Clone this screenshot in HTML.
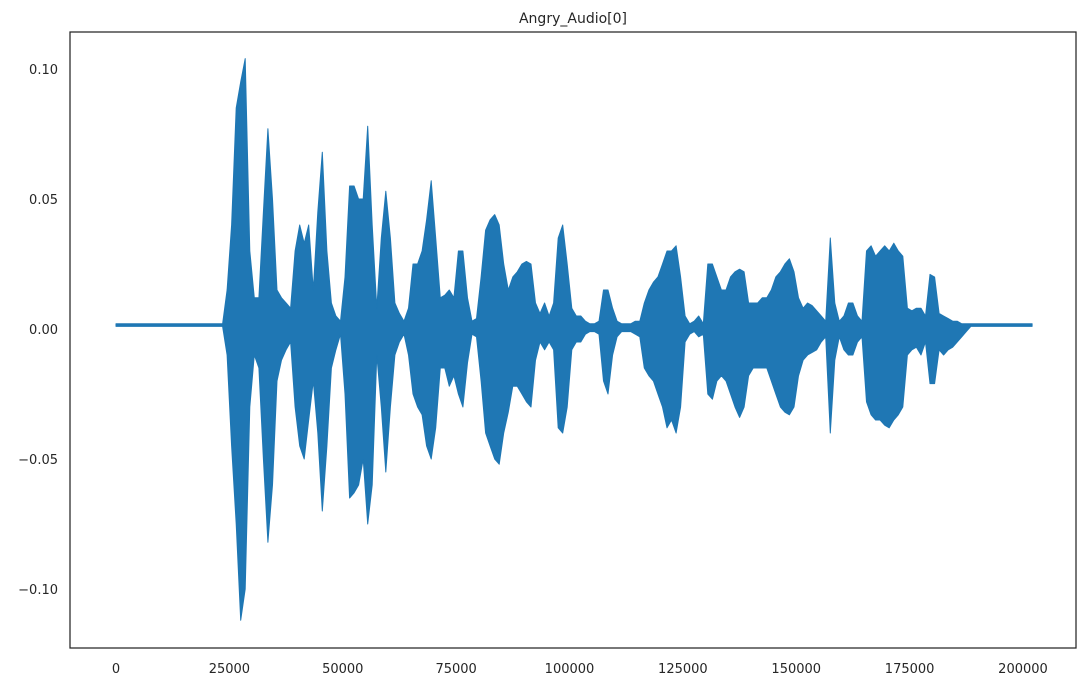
<!DOCTYPE html>
<html><head><meta charset="utf-8">
<style>
html,body{margin:0;padding:0;background:#fff;}
svg{display:block;font-family:"DejaVu Sans","Liberation Sans",sans-serif;}
</style></head>
<body>
<svg id="chart" width="1087" height="686" viewBox="0 0 1087 686" xmlns="http://www.w3.org/2000/svg">
<text x="573" y="23" text-anchor="middle" font-size="14" fill="#262626">Angry_Audio[0]</text>
<g id="plot"></g>
<rect x="70" y="32" width="1006" height="616" fill="none" stroke="#262626" stroke-width="1.25"/>
<g id="axes"></g>
</svg>
<script>
// each bin = 1000 samples
const binSize = 1000;
// envelope max values per bin (thousandths)
const envMax = [2,2,2,2,2,2,2,2,2,2,2,2,2,2,2,2,2,2,2,2,2,2,2,2,
15,40,85,95,104,30,12,12,45,77,50,15,12,10,8,30,40,33,40,15,45,68,30,10,5,3,
20,55,55,50,50,78,40,8,35,53,35,10,6,3,8,25,25,30,42,57,35,12,13,15,12,30,30,12,3,4,
20,38,42,44,40,25,15,20,22,25,26,25,10,6,10,5,10,35,40,25,8,5,5,3,2,2,3,15,15,8,3,2,2,2,3,3,
10,15,18,20,25,30,30,32,20,5,2,3,5,2,25,25,20,15,15,20,22,23,22,10,10,10,12,12,15,20,22,25,27,22,12,8,10,9,7,5,3,
35,10,3,5,10,10,5,3,30,32,28,30,32,30,33,30,28,8,7,8,8,5,21,20,6,5,4,3,3,2,2,
2,2,2,2,2,2,2,2,2,2,2,2,2,2];
// envelope min values per bin (thousandths)
const envMin = [1,1,1,1,1,1,1,1,1,1,1,1,1,1,1,1,1,1,1,1,1,1,1,1,
-10,-45,-75,-112,-100,-30,-10,-15,-50,-82,-60,-20,-12,-8,-5,-30,-45,-50,-35,-20,-40,-70,-45,-15,-8,-2,
-25,-65,-63,-60,-50,-75,-60,-10,-30,-55,-30,-10,-5,-2,-10,-25,-30,-33,-45,-50,-38,-15,-15,-22,-18,-25,-30,-13,-2,-3,
-20,-40,-45,-50,-52,-40,-32,-22,-22,-25,-28,-30,-12,-5,-8,-5,-8,-38,-40,-30,-8,-5,-5,-2,-1,-1,-2,-20,-25,-10,-3,-1,-1,-1,-2,-3,
-15,-18,-20,-25,-30,-38,-35,-40,-30,-5,-2,-1,-3,-2,-25,-27,-20,-18,-20,-25,-30,-34,-30,-18,-15,-15,-15,-15,-20,-25,-30,-32,-33,-30,-18,-12,-10,-9,-8,-5,-3,
-40,-12,-3,-8,-10,-10,-5,-3,-28,-33,-35,-35,-37,-38,-35,-33,-30,-10,-8,-7,-10,-5,-21,-21,-8,-10,-8,-7,-5,-3,-1,
1,1,1,1,1,1,1,1,1,1,1,1,1,1];
const xTicks = [0,25000,50000,75000,100000,125000,150000,175000,200000];
const xTickLabels = ["0","25000","50000","75000","100000","125000","150000","175000","200000"];
const yTicks = [0.10,0.05,0.00,-0.05,-0.10];
const yTickLabels = ["0.10","0.05","0.00","\u22120.05","\u22120.10"];

const xScale = s => 116 + s * (1023 - 116) / 200000;
const yScale = v => 329 - v * 2600;
const NS = "http://www.w3.org/2000/svg";
const plot = document.getElementById('plot');
const axes = document.getElementById('axes');

const n = envMax.length;
let pts = [];
pts.push(xScale(0).toFixed(1) + ',' + yScale(envMax[0] / 1000).toFixed(1));
for (let i = 0; i < n; i++) {
  pts.push(xScale((i + 0.5) * binSize).toFixed(1) + ',' + yScale(envMax[i] / 1000).toFixed(1));
}
pts.push(xScale(n * binSize).toFixed(1) + ',' + yScale(envMax[n - 1] / 1000).toFixed(1));
pts.push(xScale(n * binSize).toFixed(1) + ',' + yScale(envMin[n - 1] / 1000).toFixed(1));
for (let i = n - 1; i >= 0; i--) {
  pts.push(xScale((i + 0.5) * binSize).toFixed(1) + ',' + yScale(envMin[i] / 1000).toFixed(1));
}
pts.push(xScale(0).toFixed(1) + ',' + yScale(envMin[0] / 1000).toFixed(1));
const poly = document.createElementNS(NS, 'polygon');
poly.setAttribute('points', pts.join(' '));
poly.setAttribute('fill', '#1f77b4');
poly.setAttribute('stroke', '#1f77b4');
poly.setAttribute('stroke-width', '1');
poly.setAttribute('stroke-linejoin', 'round');


plot.appendChild(poly);

xTicks.forEach((t, i) => {
  const tx = document.createElementNS(NS, 'text');
  tx.setAttribute('x', xScale(t));
  tx.setAttribute('y', 673);
  tx.setAttribute('text-anchor', 'middle');
  tx.setAttribute('font-size', '13');
  tx.setAttribute('fill', '#262626');
  tx.textContent = xTickLabels[i];
  
  
  axes.appendChild(tx);
});
yTicks.forEach((t, i) => {
  const tx = document.createElementNS(NS, 'text');
  tx.setAttribute('x', 58);
  tx.setAttribute('y', yScale(t) + 5);
  tx.setAttribute('text-anchor', 'end');
  tx.setAttribute('font-size', '13');
  tx.setAttribute('fill', '#262626');
  tx.textContent = yTickLabels[i];
  
  
  axes.appendChild(tx);
});
</script>
</body></html>
